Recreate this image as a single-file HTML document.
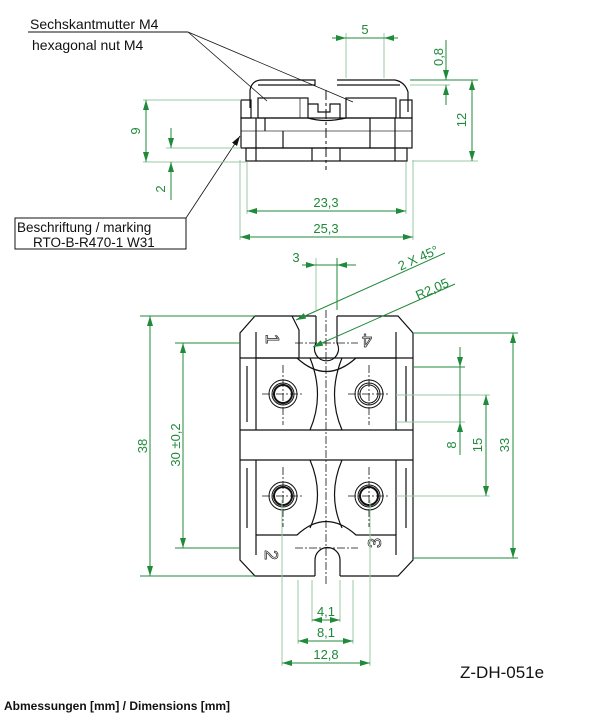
<!DOCTYPE html>
<html><head><meta charset="utf-8"><style>
html,body{margin:0;padding:0;background:#fff;width:604px;height:728px;overflow:hidden}
svg{display:block}
text{font-family:"Liberation Sans",sans-serif}
.g{stroke:#1f8a3a;stroke-width:1;fill:none}
.gl{stroke:#9cc8a6;stroke-width:1;fill:none}
.k{stroke:#111;stroke-width:1.2;fill:none}
.kt{stroke:#333;stroke-width:0.8;fill:none}
.gt{fill:#1f8a3a;font-size:13px}
</style></head><body>
<svg width="604" height="728" viewBox="0 0 604 728" xmlns="http://www.w3.org/2000/svg">
<defs>
<marker id="a" viewBox="0 0 10 6" refX="10" refY="3" markerWidth="10" markerHeight="6" orient="auto-start-reverse" markerUnits="userSpaceOnUse"><path d="M0,0L10,3L0,6z" fill="#1f8a3a"/></marker>
<marker id="b" viewBox="0 0 10 6" refX="10" refY="3" markerWidth="10" markerHeight="6" orient="auto" markerUnits="userSpaceOnUse"><path d="M0,0L10,3L0,6z" fill="#111"/></marker>
</defs>

<text x="30" y="29" font-size="14" fill="#111">Sechskantmutter M4</text>
<line x1="28" y1="32" x2="188" y2="32" stroke="#111"/>
<text x="32" y="50" font-size="14" fill="#111">hexagonal nut M4</text>
<line x1="188" y1="32" x2="267" y2="101" stroke="#111" stroke-width="0.8"/>
<line x1="188" y1="32" x2="353" y2="102" stroke="#111" stroke-width="0.8"/>
<rect x="15" y="218" width="171" height="31" fill="#fff" stroke="#111"/>
<text x="17" y="232" font-size="13.5" fill="#111">Beschriftung / marking</text>
<text x="33" y="247" font-size="13.5" fill="#111">RTO-B-R470-1 W31</text>
<line x1="186" y1="218" x2="240" y2="136" stroke="#111" stroke-width="0.8" marker-end="url(#b)"/>

<g class="k">
<path d="M250,108 L250,90 Q252,80 262,80 L315,80 L315,85 L258,85"/>
<path d="M337,80 L395,80 Q405,82 408,92 L408,112"/>
<line x1="337" y1="85" x2="400" y2="85"/>
<rect x="241" y="100" width="10" height="18"/>
<rect x="400" y="100" width="12" height="18"/>
<rect x="258" y="98" width="50" height="20"/>
<rect x="346" y="98" width="50" height="20"/>
<path d="M308,104 L318,104 L318,112 L330,112 L330,104 L340,104 L340,118"/>
<path d="M308,118 Q325,123 346,118"/>
<line x1="241" y1="131" x2="412" y2="131" stroke="#888"/>
<rect x="241" y="118" width="171" height="30"/>
<rect x="246" y="148" width="161" height="13"/>
<line x1="256" y1="118" x2="256" y2="161"/><line x1="395" y1="118" x2="395" y2="161"/>
<line x1="283" y1="131" x2="283" y2="148"/><line x1="370" y1="131" x2="370" y2="148"/>
<line x1="312" y1="148" x2="312" y2="161"/><line x1="340" y1="148" x2="340" y2="161"/>
<line x1="265" y1="118" x2="265" y2="131"/><line x1="370" y1="118" x2="370" y2="131"/>
<line x1="300" y1="98" x2="300" y2="118" class="kt"/>
</g>
<line x1="326" y1="90" x2="326" y2="170" stroke="#111" stroke-dasharray="10,3,3,3"/>

<g class="gl">
<line x1="346" y1="33" x2="346" y2="78"/><line x1="384" y1="33" x2="384" y2="78"/>
<line x1="143" y1="100" x2="241" y2="100"/><line x1="143" y1="162" x2="246" y2="162"/>
<line x1="166" y1="148" x2="241" y2="148"/>
<line x1="247" y1="162" x2="247" y2="214"/><line x1="406" y1="162" x2="406" y2="214"/>
<line x1="240" y1="160" x2="240" y2="240"/><line x1="413" y1="160" x2="413" y2="240"/>
<line x1="410" y1="85" x2="450" y2="85"/>
<line x1="410" y1="80" x2="478" y2="80" stroke="#1f8a3a"/><line x1="412" y1="161" x2="478" y2="161"/>
</g>
<g class="g">
<line x1="332" y1="38" x2="346" y2="38" marker-end="url(#a)"/><line x1="398" y1="38" x2="384" y2="38" marker-end="url(#a)"/>
<line x1="346" y1="38" x2="384" y2="38"/>
<line x1="146" y1="100" x2="146" y2="162" marker-start="url(#a)" marker-end="url(#a)"/>
<line x1="171" y1="128" x2="171" y2="148" marker-end="url(#a)"/><line x1="171" y1="200" x2="171" y2="162" marker-end="url(#a)"/>
<line x1="446" y1="40" x2="446" y2="80" marker-end="url(#a)"/><line x1="446" y1="105" x2="446" y2="85" marker-end="url(#a)"/>
<line x1="472" y1="80" x2="472" y2="161" marker-start="url(#a)" marker-end="url(#a)"/>
<line x1="247" y1="211" x2="406" y2="211" marker-start="url(#a)" marker-end="url(#a)"/>
<line x1="240" y1="237" x2="413" y2="237" marker-start="url(#a)" marker-end="url(#a)"/>
</g>
<text class="gt" x="365" y="34" text-anchor="middle">5</text>
<text class="gt" transform="translate(140,131) rotate(-90)" text-anchor="middle">9</text>
<text class="gt" transform="translate(165,189) rotate(-90)" text-anchor="middle">2</text>
<text class="gt" transform="translate(443,57) rotate(-90)" text-anchor="middle">0,8</text>
<text class="gt" transform="translate(466,120) rotate(-90)" text-anchor="middle">12</text>
<text class="gt" x="326" y="207" text-anchor="middle">23,3</text>
<text class="gt" x="326" y="233" text-anchor="middle">25,3</text>

<!-- bottom view -->
<g class="k">
<path d="M316,316 L255,316 L240,333 L240,560 L255,576 L315,576"/>
<path d="M340,576 L398,576 L413,560 L413,333 L398,316 L337,316"/>
<path d="M292,316 L299,330 L299,358"/>
<path d="M316,316 L316,343 A12,12 0 1 0 337,343 L337,316"/>
<path d="M315,576 L315,560 A12.5,12.5 0 0 1 340,560 L340,576"/>
<path d="M256,332 L256,358 L297,358 Q326,385 356,358 L396,358 L396,332"/>
<path d="M240,358 L413,358 M240,430 L413,430 M240,460 L413,460"/>
<path d="M256,555 L256,535 L297,535 Q326,508 356,535 L396,535 L396,555"/>
<path d="M247,366 L247,422 M406,366 L406,422 M247,468 L247,528 M406,468 L406,528"/>
<path d="M310,358 Q325,395 310,430 M342,358 Q327,395 342,430 M310,460 Q325,495 310,528 M342,460 Q327,495 342,528"/>
<path d="M256,358 L256,430 M396,358 L396,430 M256,460 L256,535 M396,460 L396,535"/>
</g>
<g fill="none" stroke="#111">
<circle cx="283" cy="394" r="14"/><circle cx="283" cy="394" r="11"/><circle cx="283" cy="394" r="9" stroke-width="2"/>
<circle cx="369" cy="394" r="14"/><circle cx="369" cy="394" r="11"/><circle cx="369" cy="394" r="9"/>
<circle cx="283" cy="496" r="14"/><circle cx="283" cy="496" r="11"/><circle cx="283" cy="496" r="9" stroke-width="2"/>
<circle cx="369" cy="496" r="14"/><circle cx="369" cy="496" r="11"/><circle cx="369" cy="496" r="9" stroke-width="2"/>
</g>
<g stroke="#111" stroke-width="0.8" stroke-dasharray="8,2,2,2">
<line x1="326" y1="310" x2="326" y2="585"/>
<line x1="262" y1="394" x2="304" y2="394"/><line x1="348" y1="394" x2="390" y2="394"/>
<line x1="262" y1="496" x2="304" y2="496"/><line x1="348" y1="496" x2="390" y2="496"/>
<line x1="283" y1="365" x2="283" y2="425"/><line x1="369" y1="365" x2="369" y2="425"/>
<line x1="283" y1="467" x2="283" y2="527"/><line x1="369" y1="467" x2="369" y2="527"/>
<line x1="295" y1="343" x2="358" y2="343"/><line x1="295" y1="548" x2="358" y2="548"/>
</g>
<text x="266" y="346" font-size="18" fill="none" stroke="#222" stroke-width="0.7" transform="rotate(90 272 340)">1</text>
<text x="382" y="348" font-size="18" fill="none" stroke="#222" stroke-width="0.7" transform="rotate(180 377 341)">4</text>
<text x="274" y="555" font-size="18" fill="none" stroke="#222" stroke-width="0.7" transform="rotate(90 272 548)">2</text>
<text x="374" y="555" font-size="18" fill="none" stroke="#222" stroke-width="0.7" transform="rotate(-90 374 548)">3</text>

<g class="gl">
<line x1="316" y1="258" x2="316" y2="310"/>
<line x1="140" y1="316" x2="255" y2="316" stroke="#1f8a3a"/><line x1="140" y1="576" x2="255" y2="576" stroke="#1f8a3a"/>
<line x1="175" y1="343" x2="240" y2="343" stroke="#1f8a3a"/><line x1="175" y1="548" x2="240" y2="548" stroke="#1f8a3a"/>
<line x1="413" y1="333" x2="518" y2="333" stroke="#1f8a3a"/><line x1="413" y1="558" x2="518" y2="558" stroke="#1f8a3a"/>
<line x1="396" y1="395" x2="490" y2="395"/><line x1="396" y1="496" x2="490" y2="496"/>
<line x1="413" y1="367" x2="465" y2="367" stroke="#1f8a3a"/><line x1="396" y1="422" x2="465" y2="422"/>
<line x1="312" y1="580" x2="312" y2="622"/><line x1="340" y1="580" x2="340" y2="622"/>
<line x1="298" y1="580" x2="298" y2="644"/><line x1="353" y1="580" x2="353" y2="644"/>
<line x1="282" y1="500" x2="282" y2="666"/><line x1="370" y1="500" x2="370" y2="666"/>
</g>
<g class="g">
<line x1="337" y1="258" x2="337" y2="310"/>
<line x1="302" y1="265" x2="316" y2="265" marker-end="url(#a)"/><line x1="356" y1="265" x2="337" y2="265" marker-end="url(#a)"/>
<line x1="316" y1="265" x2="337" y2="265"/>
<line x1="445" y1="253" x2="296" y2="320" marker-end="url(#a)"/>
<line x1="455" y1="284" x2="313" y2="347" marker-end="url(#a)"/>
<line x1="150" y1="316" x2="150" y2="576" marker-start="url(#a)" marker-end="url(#a)"/>
<line x1="183" y1="343" x2="183" y2="548" marker-start="url(#a)" marker-end="url(#a)"/>
<line x1="513" y1="333" x2="513" y2="558" marker-start="url(#a)" marker-end="url(#a)"/>
<line x1="486" y1="395" x2="486" y2="496" marker-start="url(#a)" marker-end="url(#a)"/>
<line x1="460" y1="347" x2="460" y2="367" marker-end="url(#a)"/><line x1="460" y1="455" x2="460" y2="422" marker-end="url(#a)"/>
<line x1="460" y1="367" x2="460" y2="422"/>
<line x1="312" y1="620" x2="340" y2="620" marker-start="url(#a)" marker-end="url(#a)"/>
<line x1="298" y1="641" x2="353" y2="641" marker-start="url(#a)" marker-end="url(#a)"/>
<line x1="282" y1="663" x2="370" y2="663" marker-start="url(#a)" marker-end="url(#a)"/>
</g>
<text class="gt" x="296" y="262" text-anchor="middle">3</text>
<text class="gt" transform="translate(420,262) rotate(-24)" text-anchor="middle">2 X 45°</text>
<text class="gt" transform="translate(434,293) rotate(-24)" text-anchor="middle">R2,05</text>
<text class="gt" transform="translate(147,446) rotate(-90)" text-anchor="middle">38</text>
<text class="gt" transform="translate(180,445) rotate(-90)" text-anchor="middle">30 ±0,2</text>
<text class="gt" transform="translate(509,445) rotate(-90)" text-anchor="middle">33</text>
<text class="gt" transform="translate(482,445) rotate(-90)" text-anchor="middle">15</text>
<text class="gt" transform="translate(456,445) rotate(-90)" text-anchor="middle">8</text>
<text class="gt" x="326" y="616" text-anchor="middle">4,1</text>
<text class="gt" x="326" y="637" text-anchor="middle">8,1</text>
<text class="gt" x="326" y="659" text-anchor="middle">12,8</text>

<text x="460" y="678" font-size="17" fill="#111">Z-DH-051e</text>
<text x="4" y="710" font-size="12" font-weight="bold" fill="#111">Abmessungen [mm] / Dimensions [mm]</text>
</svg>
</body></html>
